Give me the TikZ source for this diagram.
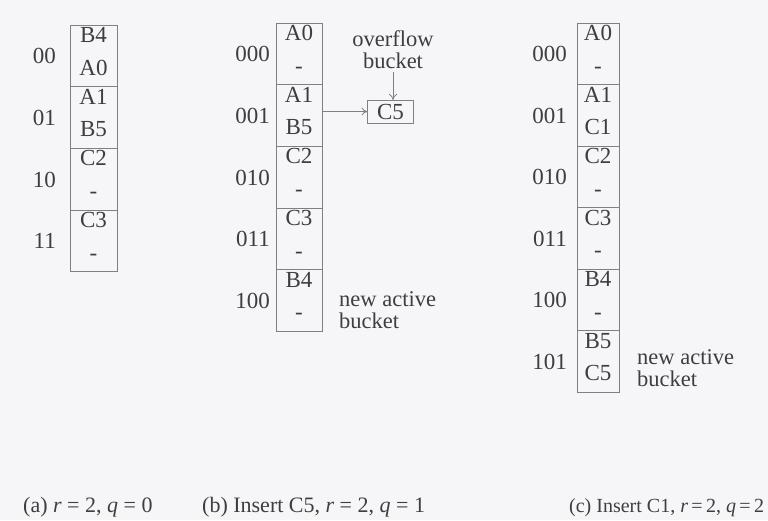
\documentclass[tikz,border=0pt]{standalone}
\usepackage{fontspec}
\setmainfont{Liberation Serif}
\usetikzlibrary{calc,arrows.meta}
\definecolor{bgc}{HTML}{F6F6F8}
\definecolor{txtc}{HTML}{3E3E3E}
\definecolor{linec}{HTML}{808080}
\tikzset{
  bucketbox/.style={draw=linec, line width=0.8pt, inner sep=0pt, outer sep=0pt, minimum height=61.7pt},
  itemtxt/.style={text=txtc, inner sep=0pt, anchor=base, font=\fontsize{23}{24}\selectfont},
  labtxt/.style={text=txtc, inner sep=0pt, anchor=base east, font=\fontsize{23}{24}\selectfont},
  notetxt/.style={text=txtc, inner sep=0pt, font=\fontsize{22.5}{22}\selectfont},
  captxt/.style={text=txtc, inner sep=0pt, anchor=base west, font=\fontsize{22}{24}\selectfont},
  conn/.style={draw=linec, line width=0.8pt, -{To[length=6pt,width=8pt]}}
}
% #1 name, #2 x, #3 top y, #4 width, #5 label, #6 item 1, #7 item 2, #8 label gap
\newcommand\mybucket[8]{%
  \node[bucketbox, minimum width=#4pt, anchor=north west] (#1) at (#2,#3) {};
  \node[itemtxt] (#1t) at ($(#1.north)+(0,17.5)$) {#6};
  \node[itemtxt] (#1b) at ($(#1.north)+(0,50)$) {#7};
  \node[labtxt] (#1l) at ($(#1.west)+(-#8,8)$) {#5};
}
\begin{document}
\begin{tikzpicture}[x=1pt,y=-1pt]
\useasboundingbox (0,0) rectangle (768,520);
\fill[bgc] (0,0) rectangle (768,520);
% (a)
\mybucket{a0}{70}{25}{47}{00}{B4}{A0}{14}
\mybucket{a1}{70}{86.7}{47}{01}{A1}{B5}{14}
\mybucket{a2}{70}{148.4}{47}{10}{C2}{-}{14}
\mybucket{a3}{70}{210.1}{47}{11}{C3}{-}{14}
% (b)
\mybucket{b0}{276}{23}{46}{000}{A0}{-}{6}
\mybucket{b1}{276}{84.7}{46}{001}{A1}{B5}{6}
\mybucket{b2}{276}{146.4}{46}{010}{C2}{-}{6}
\mybucket{b3}{276}{208.1}{46}{011}{C3}{-}{6}
\mybucket{b4}{276}{269.8}{46}{100}{B4}{-}{6}
\node[bucketbox, minimum width=46pt, minimum height=23pt, anchor=north west] (ov) at (367.5,100) {};
\node[itemtxt] (ovt) at ($(ov.center)+(0,8)$) {C5};
\node[notetxt, align=center, anchor=base] (ovl) at (393,68) {overflow\\bucket};
\draw[conn] ($(ovl.south)+(0,4)$) -- (ovl.south |- ov.north);
\draw[conn] (b1.east |- ov.west) -- (ov.west);
\node[notetxt, align=left, anchor=base west] (nab) at (339,328) {new active\\bucket};
% (c)
\mybucket{c0}{577}{23}{42}{000}{A0}{-}{10}
\mybucket{c1}{577}{84.5}{42}{001}{A1}{C1}{10}
\mybucket{c2}{577}{146}{42}{010}{C2}{-}{10}
\mybucket{c3}{577}{207.5}{42}{011}{C3}{-}{10}
\mybucket{c4}{577}{269}{42}{100}{B4}{-}{10}
\mybucket{c5}{577}{330.5}{42}{101}{B5}{C5}{10}
\node[notetxt, align=left, anchor=base west] (nac) at (637,386) {new active\\bucket};
% captions
\node[captxt] (capa) at (23,512) {(a) \textit{r} = 2, \textit{q} = 0};
\node[captxt] (capb) at (202,512) {(b) Insert C5, \textit{r} = 2, \textit{q} = 1};
\node[captxt, font=\fontsize{20}{22}\selectfont] (capc) at (569,512) {(c) Insert C1, \textit{r}\,=\,2, \textit{q}\,=\,2};
\end{tikzpicture}
\end{document}
